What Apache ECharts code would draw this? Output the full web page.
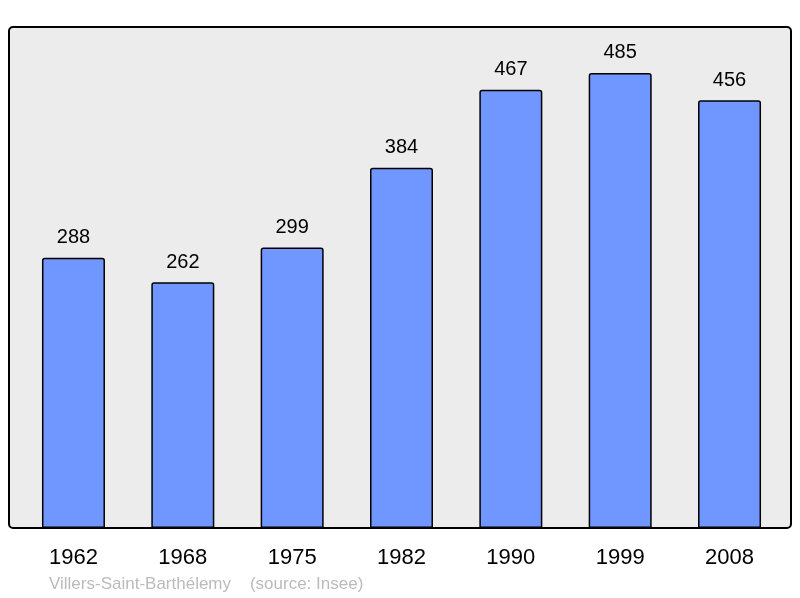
<!DOCTYPE html>
<html>
<head>
<meta charset="utf-8">
<script src="https://cdn.jsdelivr.net/npm/echarts@6/dist/echarts.min.js"></script>
<style>
  html, body { margin: 0; padding: 0; background: #fff; }
  #chart { width: 800px; height: 598px; }
</style>
</head>
<body>
<div id="chart"></div>
<script>
// population par recensement
const years = ['1962', '1968', '1975', '1982', '1990', '1999', '2008'];
const population = [288, 262, 299, 384, 467, 485, 456];

const chart = echarts.init(document.getElementById('chart'));

chart.setOption({
    animation: false,
    textStyle: { fontFamily: 'Liberation Sans, Arial, sans-serif' },
    graphic: [
        {
            type: 'rect',
            z: -10,
            shape: { x: 9, y: 27, width: 782, height: 501, r: 4 },
            style: { fill: '#ececec', stroke: '#000', lineWidth: 2 }
        },
        {
            type: 'text',
            left: 49,
            top: 576,
            style: {
                text: 'Villers-Saint-Barthélemy    (source: Insee)',
                fill: '#bbbbbb',
                font: '17px "Liberation Sans", Arial, sans-serif'
            }
        }
    ],
    grid: { left: 18.8, right: 15.8, top: 27, bottom: 70 },
    xAxis: {
        type: 'category',
        data: years,
        axisLine: { show: false },
        axisTick: { show: false },
        axisLabel: { color: '#000', fontSize: 22, margin: 19 }
    },
    yAxis: {
        type: 'value',
        min: 0,
        max: 534,
        show: false,
        splitLine: { show: false }
    },
    series: [{
        type: 'bar',
        data: population,
        barWidth: 63,
        itemStyle: {
            color: '#7096ff',
            borderColor: '#000',
            borderWidth: 1.5,
            borderRadius: [2, 2, 0, 0]
        },
        label: {
            show: true,
            position: 'top',
            distance: 10,
            color: '#000',
            fontSize: 20
        }
    }]
});
</script>
</body>
</html>
